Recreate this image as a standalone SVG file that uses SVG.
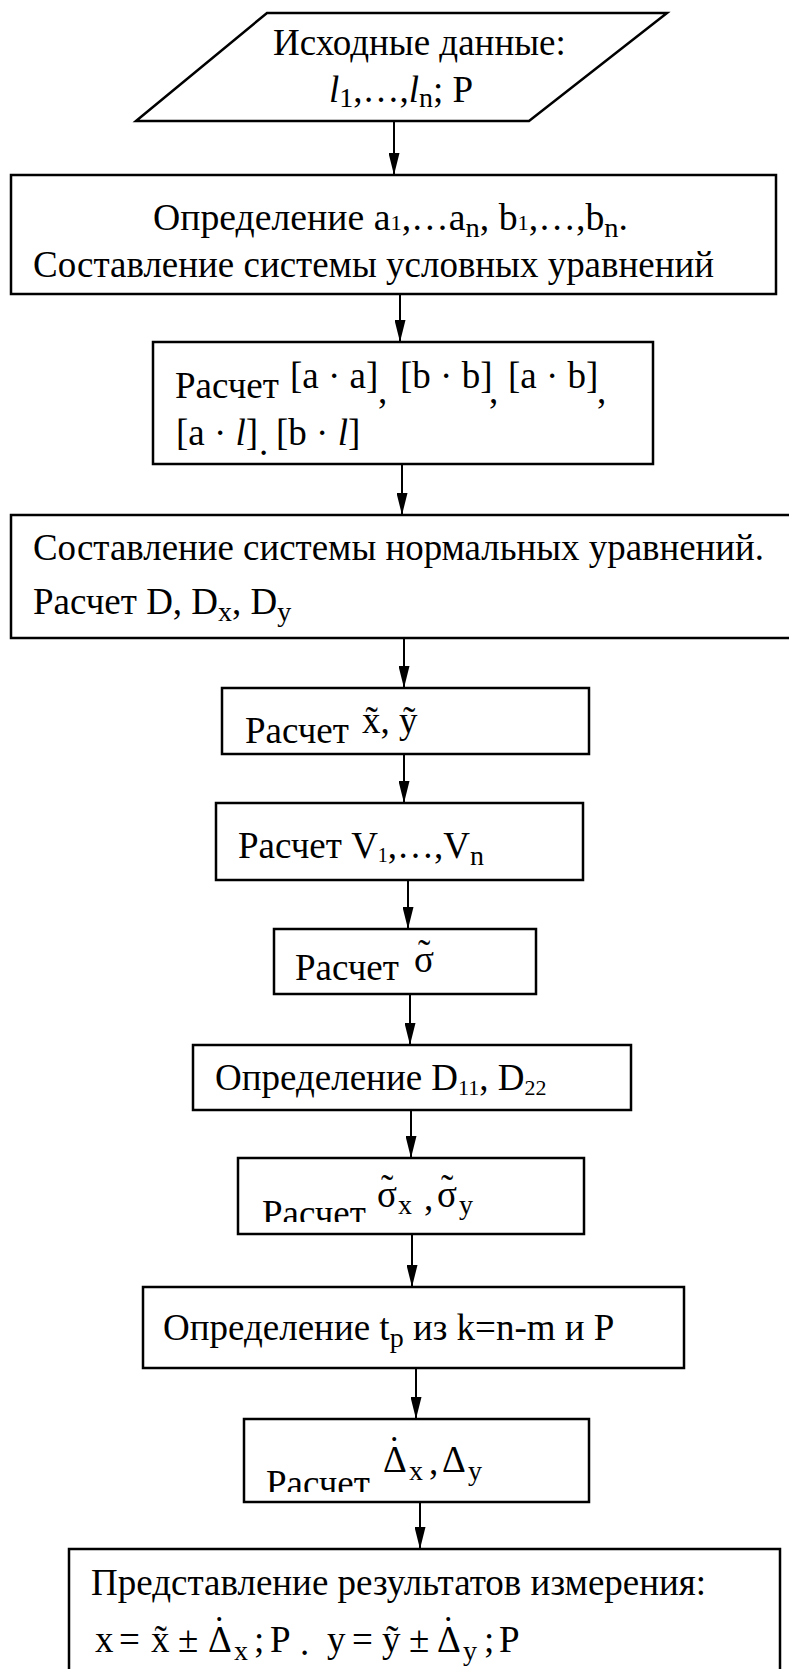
<svg xmlns="http://www.w3.org/2000/svg" width="789" height="1669" viewBox="0 0 789 1669">
<style>
  .bg { fill: #ffffff; }
  .shape { fill: #ffffff; stroke: #000000; stroke-width: 2.5; }
  .conn { stroke: #000000; stroke-width: 2; fill: none; }
  .t { font-family: "Liberation Serif", "Times New Roman", serif; font-size: 37px; fill: #000000; }
  .it { font-style: italic; }
  .sub { font-size: 28px; }
  .sub2 { font-size: 22px; }
</style>
<defs>
  <marker id="ah" viewBox="0 0 24 12" refX="24" refY="6" markerWidth="24" markerHeight="11" markerUnits="userSpaceOnUse" orient="auto">
    <path d="M0,0 L24,6 L0,12 Z" fill="#000000"/>
  </marker>
  <clipPath id="clip9"><rect x="238" y="1158" width="346" height="64"/></clipPath>
  <clipPath id="clip11"><rect x="244" y="1419" width="345" height="73"/></clipPath>
</defs>
<rect class="bg" x="0" y="0" width="789" height="1669"/>

<g id="connectors">
  <line class="conn" x1="394" y1="121" x2="394" y2="175" marker-end="url(#ah)"/>
  <line class="conn" x1="400" y1="294" x2="400" y2="342" marker-end="url(#ah)"/>
  <line class="conn" x1="402" y1="464" x2="402" y2="515" marker-end="url(#ah)"/>
  <line class="conn" x1="404" y1="638" x2="404" y2="688" marker-end="url(#ah)"/>
  <line class="conn" x1="404" y1="754" x2="404" y2="803" marker-end="url(#ah)"/>
  <line class="conn" x1="408" y1="880" x2="408" y2="929" marker-end="url(#ah)"/>
  <line class="conn" x1="410" y1="994" x2="410" y2="1045" marker-end="url(#ah)"/>
  <line class="conn" x1="411" y1="1110" x2="411" y2="1158" marker-end="url(#ah)"/>
  <line class="conn" x1="412" y1="1234" x2="412" y2="1287" marker-end="url(#ah)"/>
  <line class="conn" x1="416" y1="1368" x2="416" y2="1419" marker-end="url(#ah)"/>
  <line class="conn" x1="420" y1="1502" x2="420" y2="1549" marker-end="url(#ah)"/>
</g>

<g id="n1">
  <polygon class="shape" points="136,121 267,13 667,13 529,121"/>
  <text class="t" x="273" y="55">Исходные данные:</text>
  <text class="t" x="329" y="102"><tspan class="it">l</tspan><tspan class="sub" dy="5">1</tspan><tspan dy="-5">,…,</tspan><tspan class="it">l</tspan><tspan class="sub" dy="5">n</tspan><tspan dy="-5">; P</tspan></text>
</g>

<g id="n2">
  <rect class="shape" x="11" y="175" width="765" height="119"/>
  <text class="t" x="153" y="230" textLength="475" lengthAdjust="spacingAndGlyphs">Определение a<tspan class="sub2">1</tspan>,…a<tspan class="sub" dy="7">n</tspan><tspan dy="-7">, b</tspan><tspan class="sub2">1</tspan>,…,b<tspan class="sub" dy="7">n</tspan><tspan dy="-7">.</tspan></text>
  <text class="t" x="33" y="277" textLength="681" lengthAdjust="spacingAndGlyphs">Составление системы условных уравнений</text>
</g>

<g id="n3">
  <rect class="shape" x="153" y="342" width="500" height="122"/>
  <text class="t" x="175" y="398">Расчет<tspan x="290" y="388">[a · a]</tspan><tspan x="378" y="403">,</tspan><tspan x="400" y="388">[b · b]</tspan><tspan x="489" y="403">,</tspan><tspan x="508" y="388">[a · b]</tspan><tspan x="597" y="403">,</tspan></text>
  <text class="t" x="176" y="445">[a · <tspan class="it">l</tspan>]<tspan x="259" y="455">.</tspan><tspan x="276" y="445">[b · </tspan><tspan class="it">l</tspan>]</text>
</g>

<g id="n4">
  <rect class="shape" x="11" y="515" width="790" height="123"/>
  <text class="t" x="33" y="560" textLength="731" lengthAdjust="spacingAndGlyphs">Составление системы нормальных уравнений.</text>
  <text class="t" x="33" y="614">Расчет D, D<tspan class="sub" dy="7">x</tspan><tspan dy="-7">, D</tspan><tspan class="sub" dy="7">y</tspan></text>
</g>

<g id="n5">
  <rect class="shape" x="222" y="688" width="367" height="66"/>
  <text class="t" x="245" y="743">Расчет</text>
  <text class="t" x="362" y="733">x̃, ỹ</text>
</g>

<g id="n6">
  <rect class="shape" x="216" y="803" width="367" height="77"/>
  <text class="t" x="238" y="858">Расчет V<tspan font-size="20" dy="4">1</tspan><tspan dy="-4">,…,V</tspan><tspan class="sub" dy="7">n</tspan></text>
</g>

<g id="n7">
  <rect class="shape" x="274" y="929" width="262" height="65"/>
  <text class="t" x="295" y="980">Расчет<tspan x="414" y="972">σ</tspan><tspan x="418" y="966">˜</tspan></text>
</g>

<g id="n8">
  <rect class="shape" x="193" y="1045" width="438" height="65"/>
  <text class="t" x="215" y="1090">Определение D<tspan class="sub2" dy="5">11</tspan><tspan dy="-5">, D</tspan><tspan class="sub2" dy="5">22</tspan></text>
</g>

<g id="n9">
  <rect class="shape" x="238" y="1158" width="346" height="76"/>
  <text class="t" x="262" y="1226" clip-path="url(#clip9)">Расчет</text>
  <text class="t" x="377" y="1207">σ<tspan x="381" y="1201">˜</tspan><tspan class="sub" x="398" y="1214">x</tspan><tspan x="424" y="1210">,</tspan><tspan x="437" y="1207">σ</tspan><tspan x="441" y="1201">˜</tspan><tspan class="sub" x="459" y="1214">y</tspan></text>
</g>

<g id="n10">
  <rect class="shape" x="143" y="1287" width="541" height="81"/>
  <text class="t" x="163" y="1340">Определение t<tspan class="sub" dy="7">p</tspan><tspan dy="-7"> из k=n-m и P</tspan></text>
</g>

<g id="n11">
  <rect class="shape" x="244" y="1419" width="345" height="83"/>
  <text class="t" x="266" y="1496" clip-path="url(#clip11)">Расчет</text>
  <text class="t" x="383" y="1472">Δ<tspan x="388" y="1462">˙</tspan><tspan class="sub" x="409" y="1480">x</tspan><tspan x="429" y="1474">,</tspan><tspan x="442" y="1472">Δ</tspan><tspan class="sub" x="468" y="1480">y</tspan></text>
</g>

<g id="n12">
  <rect class="shape" x="69" y="1549" width="711" height="140"/>
  <text class="t" x="91" y="1595">Представление результатов измерения:</text>
  <text class="t" x="95" y="1652">x<tspan x="119">=</tspan><tspan x="151">x̃</tspan><tspan x="178">±</tspan><tspan x="208">Δ</tspan><tspan x="213" y="1642">˙</tspan><tspan class="sub" x="234" y="1660">x</tspan><tspan x="254" y="1652">;</tspan><tspan x="270">P</tspan><tspan x="300" y="1655">.</tspan><tspan x="327" y="1652">y</tspan><tspan x="352">=</tspan><tspan x="382">ỹ</tspan><tspan x="409">±</tspan><tspan x="437">Δ</tspan><tspan x="442" y="1642">˙</tspan><tspan class="sub" x="463" y="1660">y</tspan><tspan x="484" y="1652">;</tspan><tspan x="499">P</tspan></text>
</g>
</svg>
